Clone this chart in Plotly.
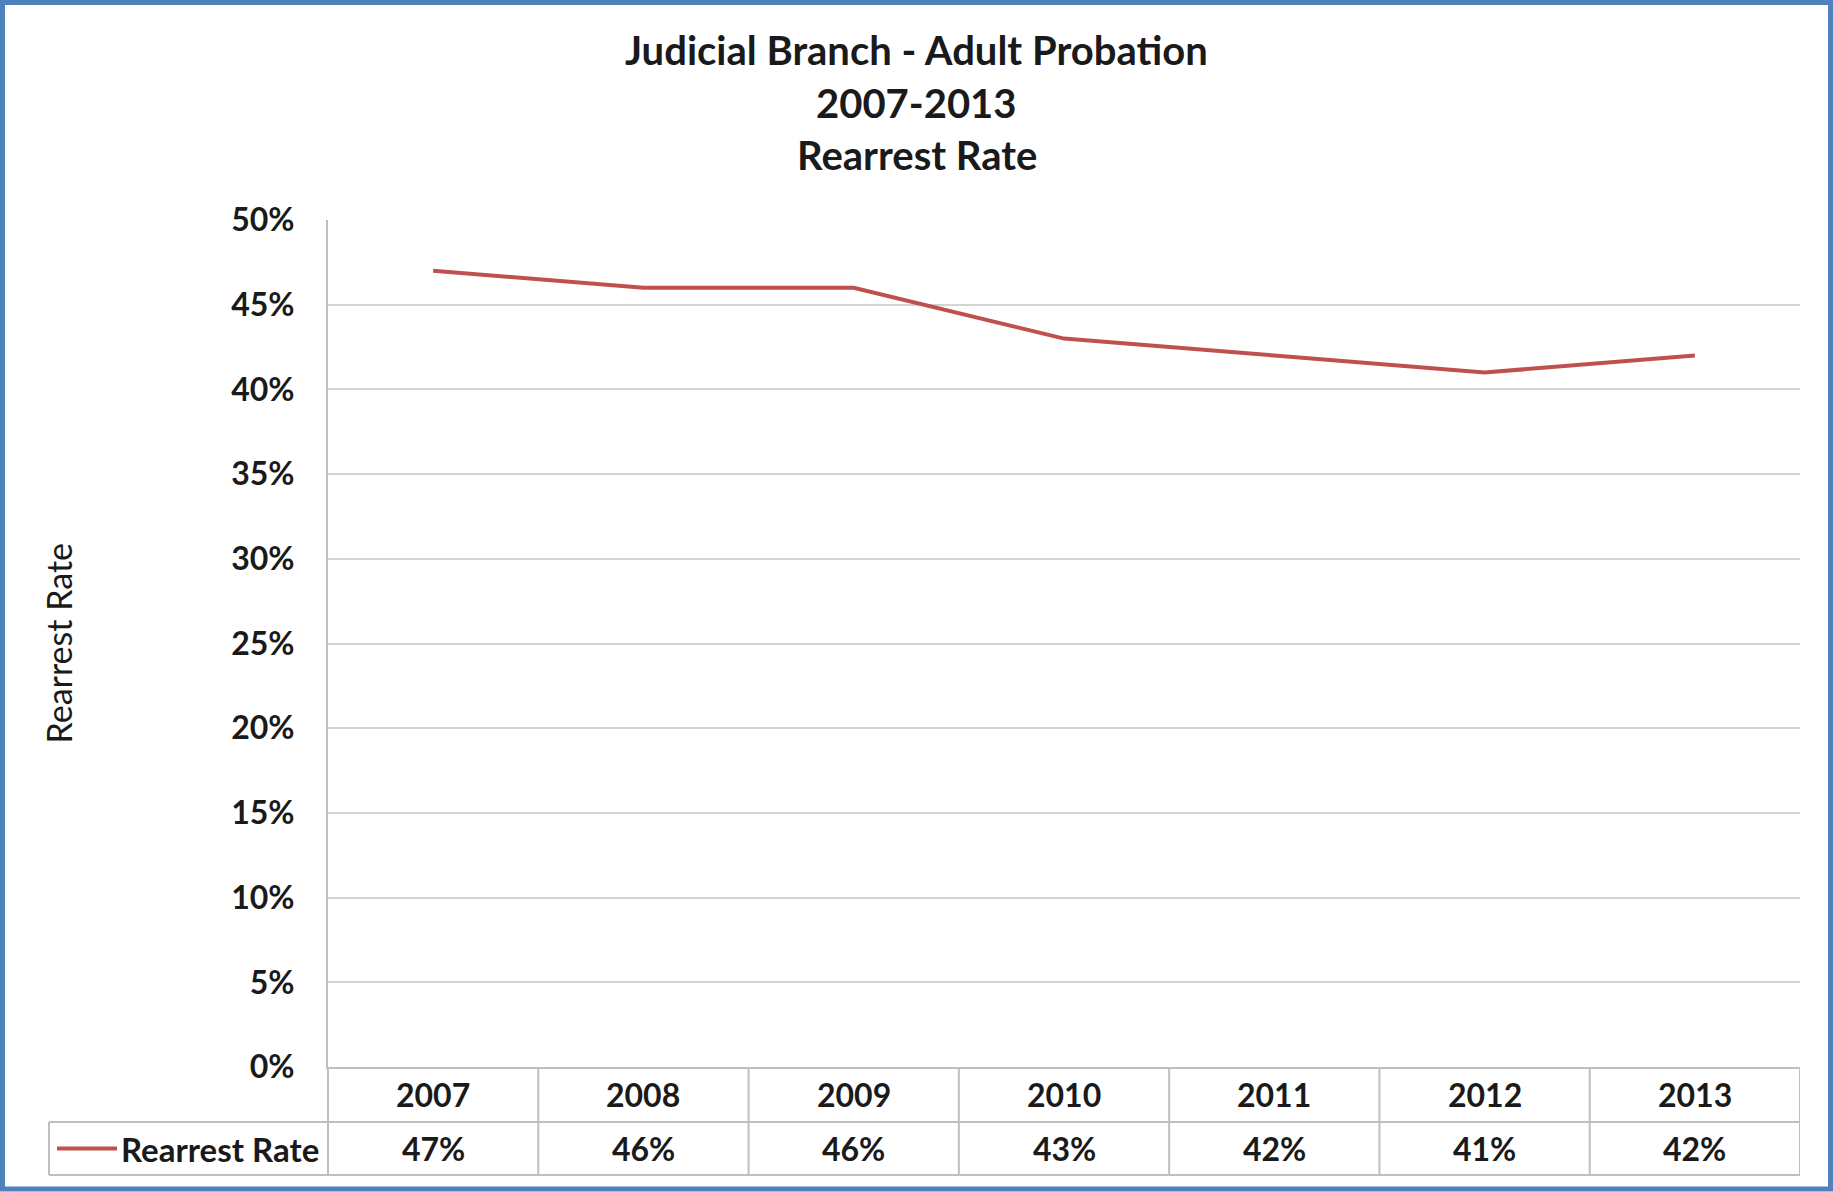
import plotly.graph_objects as go

# ---- data ----
years = ["2007", "2008", "2009", "2010", "2011", "2012", "2013"]
rearrest_rate = [0.47, 0.46, 0.46, 0.43, 0.42, 0.41, 0.42]
series_name = "Rearrest Rate"
title_lines = ["Judicial Branch - Adult Probation", "2007-2013", "Rearrest Rate"]
y_axis_title = "Rearrest Rate"
y_tick_values = [0, 0.05, 0.10, 0.15, 0.20, 0.25, 0.30, 0.35, 0.40, 0.45, 0.50]

# ---- layout geometry (pixels) ----
W, H = 1833, 1192
L, R, T, B = 328, 33, 220, 125
PW, PH = W - L - R, H - T - B
PLOT_BOTTOM = H - B
ROW1_BOTTOM, ROW2_BOTTOM, LEG_LEFT = 1122, 1175, 49
TITLE_Y = [50, 103, 155]

FONT = "Lato"
RED = "#C0504D"
GRID = "#D4D4D4"
TABLE = "#BFBFBF"
TXT = "#1a1a1a"


def yp(px):
    return (PLOT_BOTTOM - px) / PH


def xp(px):
    return (px - L) / PW


fig = go.Figure()
fig.add_trace(go.Scatter(
    x=years, y=rearrest_rate, mode="lines", name=series_name,
    line=dict(color=RED, width=4), showlegend=False,
))

shapes = []
# horizontal table lines
for ypx in (ROW1_BOTTOM, ROW2_BOTTOM):
    shapes.append(dict(type="line", xref="paper", yref="paper",
                       x0=xp(LEG_LEFT), x1=1, y0=yp(ypx), y1=yp(ypx),
                       line=dict(color=TABLE, width=2)))
# vertical table column lines
for i in range(1, len(years) + 1):
    shapes.append(dict(type="line", xref="x", yref="paper",
                       x0=i - 0.5, x1=i - 0.5, y0=0, y1=yp(ROW2_BOTTOM),
                       line=dict(color=TABLE, width=2)))
shapes.append(dict(type="line", xref="paper", yref="paper",
                   x0=0, x1=0, y0=0, y1=yp(ROW2_BOTTOM),
                   line=dict(color=TABLE, width=2)))
shapes.append(dict(type="line", xref="paper", yref="paper",
                   x0=xp(LEG_LEFT), x1=xp(LEG_LEFT),
                   y0=yp(ROW1_BOTTOM), y1=yp(ROW2_BOTTOM),
                   line=dict(color=TABLE, width=2)))
# legend key
leg_y = yp((ROW1_BOTTOM + ROW2_BOTTOM) / 2)
shapes.append(dict(type="line", xref="paper", yref="paper",
                   x0=xp(57), x1=xp(117), y0=leg_y, y1=leg_y,
                   line=dict(color=RED, width=4)))
# outer blue border
shapes.append(dict(type="rect", xref="paper", yref="paper",
                   x0=xp(2.5), x1=xp(W - 2.5), y0=yp(H - 3), y1=yp(2.5),
                   line=dict(color="#4F81BD", width=5), fillcolor="rgba(0,0,0,0)"))

annotations = []
for i, t in enumerate(title_lines):
    annotations.append(dict(text=t, xref="paper", yref="paper",
                            x=xp(W / 2), y=yp(TITLE_Y[i]), xanchor="center", yanchor="middle",
                            showarrow=False,
                            font=dict(family=FONT, size=40, color=TXT, weight="bold")))
annotations.append(dict(text=y_axis_title, xref="paper", yref="paper",
                        x=xp(58), y=0.5, textangle=-90, xanchor="center", yanchor="middle",
                        showarrow=False, font=dict(family=FONT, size=34, color=TXT)))
row1_y = yp((PLOT_BOTTOM + ROW1_BOTTOM) / 2)
for i, (yr, v) in enumerate(zip(years, rearrest_rate)):
    annotations.append(dict(text=yr, xref="x", yref="paper", x=i, y=row1_y,
                            xanchor="center", yanchor="middle", showarrow=False,
                            font=dict(family=FONT, size=32, color=TXT, weight="bold")))
    annotations.append(dict(text=f"{round(v * 100)}%", xref="x", yref="paper", x=i, y=leg_y,
                            xanchor="center", yanchor="middle", showarrow=False,
                            font=dict(family=FONT, size=32, color=TXT, weight="bold")))
annotations.append(dict(text=series_name, xref="paper", yref="paper", x=xp(119), y=leg_y,
                        xanchor="left", yanchor="middle", showarrow=False,
                        font=dict(family=FONT, size=33, color=TXT, weight="bold")))

fig.update_layout(
    width=W, height=H,
    margin=dict(l=L, r=R, t=T, b=B, pad=0),
    paper_bgcolor="white", plot_bgcolor="white",
    font=dict(family=FONT, color=TXT),
    shapes=shapes, annotations=annotations,
    xaxis=dict(type="category", range=[-0.5, len(years) - 0.5], showticklabels=False,
               showgrid=False, zeroline=False, showline=True, linecolor=TABLE, linewidth=2,
               ticks="", fixedrange=True),
    yaxis=dict(range=[0, 0.5], tickvals=y_tick_values, tickformat=".0%",
               showgrid=True, gridcolor=GRID, gridwidth=2, zeroline=False,
               showline=True, linecolor=TABLE, linewidth=2, ticks="",
               ticklabelstandoff=25,
               tickfont=dict(family=FONT, size=32, color=TXT, weight="bold"), fixedrange=True),
)

fig.write_html("out.html", config=dict(displayModeBar=False),
               post_script="document.body.style.margin='0';document.body.style.overflow='hidden';")
